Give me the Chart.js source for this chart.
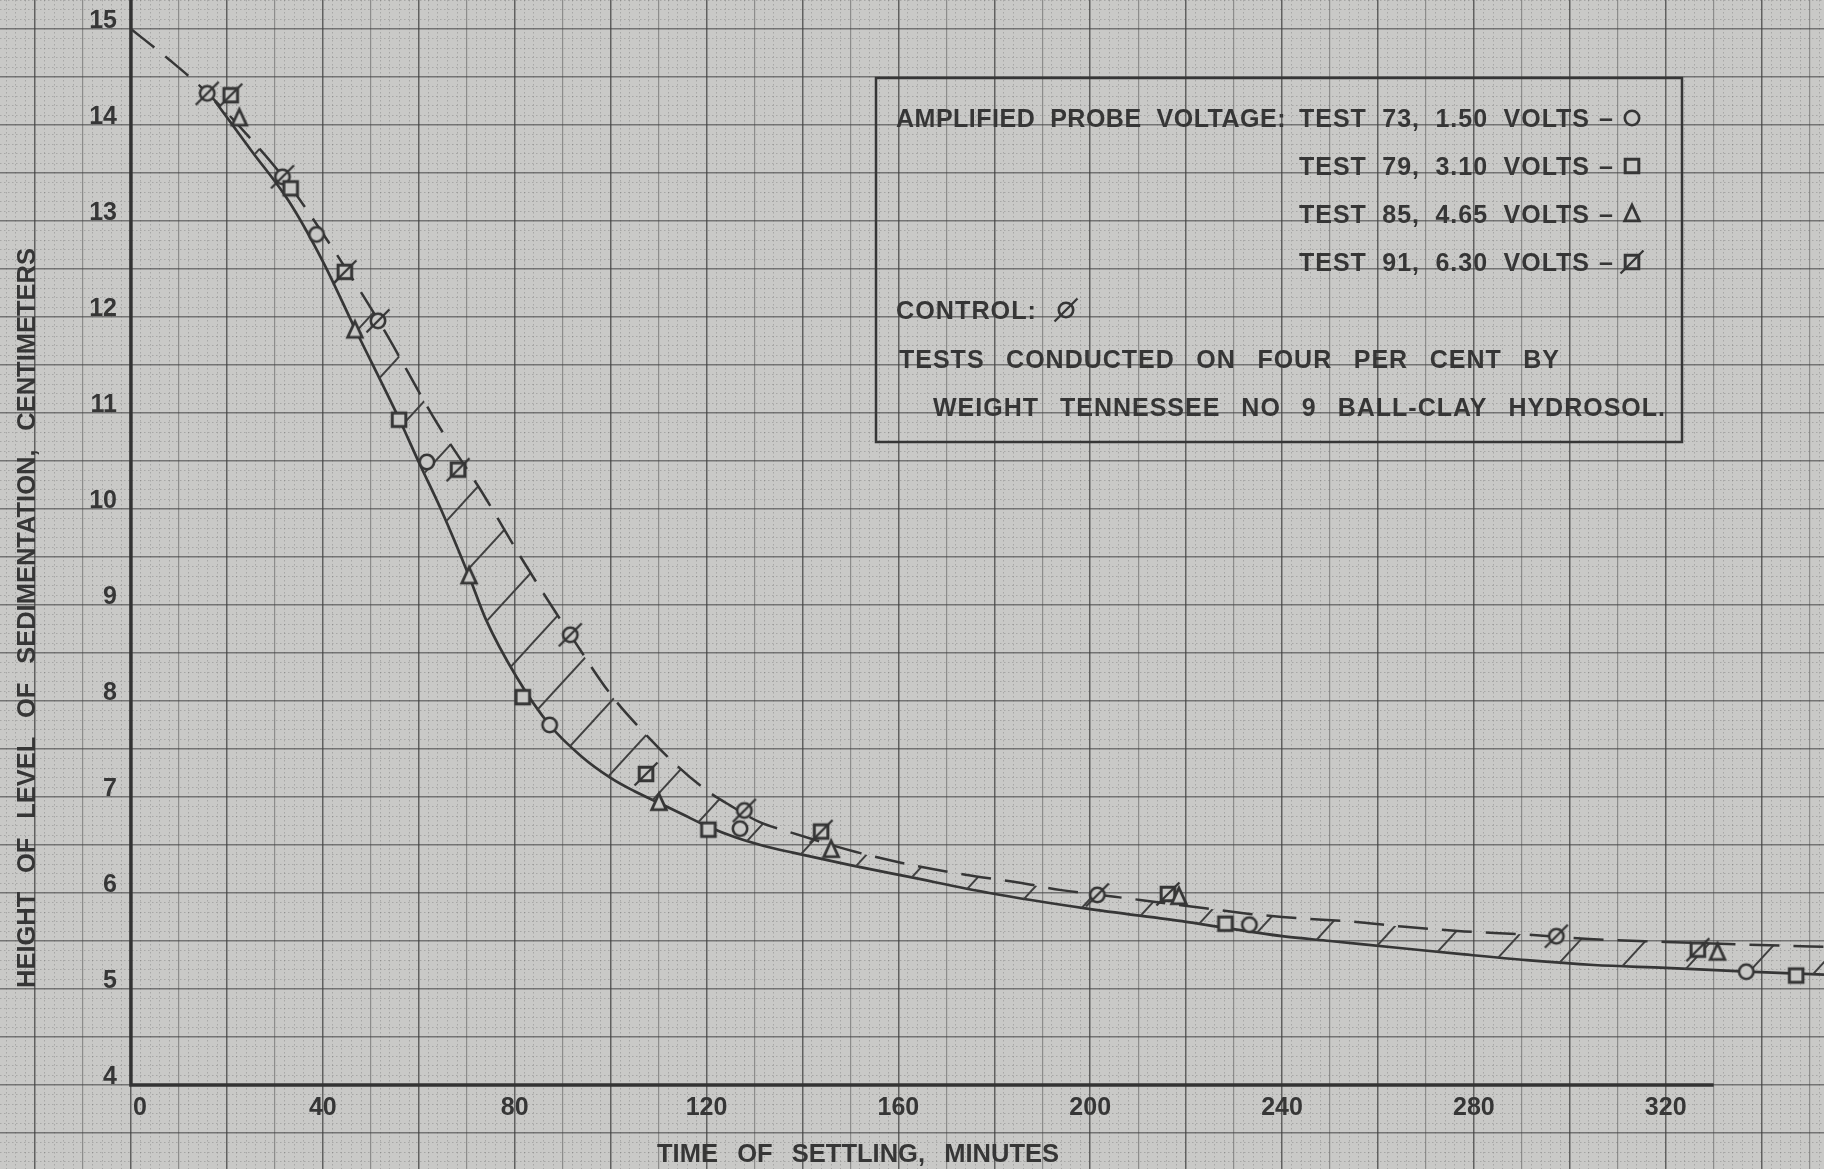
<!DOCTYPE html>
<html>
<head>
<meta charset="utf-8">
<title>Height of level of sedimentation vs. time of settling</title>
<script src="https://cdn.jsdelivr.net/npm/chart.js@4.4.1/dist/chart.umd.min.js"></script>
<style>
  html, body { margin: 0; padding: 0; background: #c9c9c7; overflow: hidden; }
  #wrap { position: relative; width: 1824px; height: 1169px; }
  canvas { display: block; }
</style>
</head>
<body>
<div id="wrap"><canvas id="chart" width="1824" height="1169"></canvas></div>
<script>
// ---- tick labels -------------------------------------------------------
const xTickLabels = [0, 40, 80, 120, 160, 200, 240, 280, 320];
const yTickLabels = [4, 5, 6, 7, 8, 9, 10, 11, 12, 13, 14, 15];

// ---- upper (dashed) settling curve: time in minutes, height in cm ---------
const dashedTimes   = [0, 8, 16, 24, 32, 42, 52, 64, 73, 82, 92, 100, 107, 114, 120, 125, 131, 137, 151, 162,
                       174, 185, 194, 202, 210, 224, 232, 240, 255, 265, 278, 290, 304, 320, 345, 353];
const dashedHeights = [15.00, 14.68, 14.33, 13.91, 13.44, 12.72, 11.93, 10.88, 10.19, 9.44, 8.66, 8.07, 7.67, 7.32, 7.07, 6.91, 6.74, 6.64, 6.43, 6.30,
                       6.19, 6.11, 6.03, 5.98, 5.93, 5.84, 5.79, 5.75, 5.70, 5.65, 5.60, 5.57, 5.52, 5.49, 5.45, 5.44];

// ---- lower (solid) settling curve -----------------------------------------
const solidTimes   = [17.5, 25, 33, 40, 46.7, 56, 60, 64.7, 70.5, 74, 80.4, 87.3, 94, 100, 105, 110, 115, 120.4, 126, 132,
                      138, 150, 162, 179, 199, 220, 240, 250, 264, 278, 291, 305, 320, 337, 353];
const solidHeights = [14.25, 13.74, 13.20, 12.58, 11.88, 10.93, 10.49, 9.99, 9.30, 8.85, 8.25, 7.75, 7.42, 7.20, 7.06, 6.94, 6.82, 6.69, 6.58, 6.49,
                      6.42, 6.29, 6.17, 6.00, 5.84, 5.70, 5.55, 5.50, 5.43, 5.36, 5.30, 5.25, 5.22, 5.18, 5.15];

// ---- observations -------------------------------------------------------
const test73Times   = [38.7, 61.7, 87.3, 127.0, 233.2, 336.8];        // 1.50 volts
const test73Heights = [12.86, 10.49, 7.75, 6.67, 5.67, 5.18];
const test79Times   = [33.3, 55.9, 81.7, 120.4, 228.2, 347.2];        // 3.10 volts
const test79Heights = [13.34, 10.93, 8.04, 6.66, 5.68, 5.14];
const test85Times   = [22.6, 46.7, 70.5, 110.1, 146.0, 218.5, 330.8]; // 4.65 volts
const test85Heights = [14.07, 11.86, 9.30, 6.94, 6.45, 5.96, 5.38];
const test91Times   = [20.8, 44.6, 68.2, 107.4, 143.9, 216.2, 326.7]; // 6.30 volts
const test91Heights = [14.31, 12.47, 10.41, 7.24, 6.64, 5.99, 5.41];
const controlTimes   = [15.9, 31.6, 51.5, 91.6, 127.9, 201.5, 297.2];
const controlHeights = [14.33, 13.46, 11.96, 8.69, 6.86, 5.98, 5.55];

// ---- texts ----------------------------------------------------------------
const xAxisTitle = 'TIME OF SETTLING, MINUTES';
const yAxisTitle = 'HEIGHT OF LEVEL OF SEDIMENTATION, CENTIMETERS';
const legendHeading = 'AMPLIFIED PROBE VOLTAGE:';
const legendTests = ['TEST 73, 1.50 VOLTS', 'TEST 79, 3.10 VOLTS', 'TEST 85, 4.65 VOLTS', 'TEST 91, 6.30 VOLTS'];
const legendControl = 'CONTROL:';
const legendNotes = ['TESTS CONDUCTED ON FOUR PER CENT BY', 'WEIGHT TENNESSEE NO 9 BALL-CLAY HYDROSOL.'];

// ---- sheet layout -------------------------------------------------------
const X_MIN = -27.3, X_MAX = 353.0;      // graph paper runs past the axes
const Y_MIN = 3.125, Y_MAX = 15.302;
const X_AXIS_END = 330;
const PAPER = '#c9c9c7';
const INK = '#363636';
const FONT = 'bold 25px "Liberation Sans", Arial, sans-serif';
const TITLE_FONT = 'bold 25.5px "Liberation Sans", Arial, sans-serif';

function pts(xs, ys) { return xs.map((x, i) => ({ x: x, y: ys[i] })); }

// Hand-drawn style marker glyphs
function makeMarker(kind) {
  const c = document.createElement('canvas');
  c.width = 36; c.height = 36;
  const g = c.getContext('2d');
  g.translate(18, 18);
  g.strokeStyle = INK;
  g.fillStyle = PAPER;
  g.lineJoin = 'miter';
  const circle = () => { g.lineWidth = 2.6; g.beginPath(); g.arc(0, 0, 7.2, 0, Math.PI * 2); g.fill(); g.stroke(); };
  const square = () => { g.lineWidth = 3; g.beginPath(); g.rect(-6.8, -6.8, 13.6, 13.6); g.fill(); g.stroke(); };
  const slash = () => { g.lineWidth = 2.3; g.beginPath(); g.moveTo(-11.5, 11.5); g.lineTo(11.5, -11.5); g.stroke(); };
  if (kind === 'circle') circle();
  if (kind === 'square') square();
  if (kind === 'triangle') {
    g.lineWidth = 2.8;
    g.beginPath(); g.moveTo(0, -9); g.lineTo(7.3, 6.8); g.lineTo(-7.3, 6.8); g.closePath(); g.fill(); g.stroke();
  }
  if (kind === 'squareSlash') { square(); slash(); }
  if (kind === 'circleSlash') { circle(); slash(); }
  return c;
}
const markers = {
  circle: makeMarker('circle'),
  square: makeMarker('square'),
  triangle: makeMarker('triangle'),
  squareSlash: makeMarker('squareSlash'),
  circleSlash: makeMarker('circleSlash')
};

// Diagonal hatching for the band between the two curves
function makeHatch() {
  const W = 66, H = 72;
  const c = document.createElement('canvas');
  c.width = W; c.height = H;
  const g = c.getContext('2d');
  g.strokeStyle = '#404040';
  g.lineWidth = 1.9;
  for (let k = 0; k <= 2; k++) {
    g.beginPath();
    g.moveTo((k - 2) * W, 2 * H);
    g.lineTo((k + 1) * W, -H);
    g.stroke();
  }
  return g.createPattern(c, 'repeat');
}

// Text stretched along a baseline so that it spans the given width
function drawFitted(ctx, text, x, y, width, tracking) {
  ctx.save();
  ctx.textAlign = 'left';
  const canTrack = 'letterSpacing' in ctx;
  const canSpace = 'wordSpacing' in ctx;
  if (canTrack) ctx.letterSpacing = (tracking || 0) + 'px';
  if (canSpace) ctx.wordSpacing = '0px';
  const words = text.split(' ');
  const gaps = words.length - 1;
  const natural = ctx.measureText(text).width;
  if (gaps === 0) {
    ctx.translate(x, y);
    ctx.scale(width / natural, 1);
    ctx.fillText(text, 0, 0);
  } else if (canSpace) {
    ctx.wordSpacing = ((width - natural) / gaps) + 'px';
    ctx.fillText(text, x, y);
  } else {
    const ws = words.map(w => ctx.measureText(w).width);
    const gap = (width - ws.reduce((a, b) => a + b, 0)) / gaps;
    let cx = x;
    words.forEach((w, i) => { ctx.fillText(w, cx, y); cx += ws[i] + gap; });
  }
  ctx.restore();
}

const sheetPlugin = {
  id: 'sheet',
  beforeDatasetsDraw(chart) {
    const { ctx } = chart;
    const xs = chart.scales.x, ys = chart.scales.y;
    const x0 = xs.getPixelForValue(0);
    const y0 = ys.getPixelForValue(4);
    ctx.save();
    ctx.strokeStyle = '#333333';
    ctx.lineWidth = 3.5;
    ctx.beginPath();
    ctx.moveTo(x0, ys.getPixelForValue(Y_MAX));
    ctx.lineTo(x0, y0);
    ctx.lineTo(xs.getPixelForValue(X_AXIS_END), y0);
    ctx.stroke();
    ctx.restore();
  },
  afterDatasetsDraw(chart) {
    const { ctx } = chart;
    const xs = chart.scales.x, ys = chart.scales.y;
    const x0 = xs.getPixelForValue(0);
    const y0 = ys.getPixelForValue(4);
    ctx.save();
    ctx.fillStyle = INK;
    ctx.font = FONT;
    ctx.textBaseline = 'alphabetic';

    // tick labels
    ctx.textAlign = 'center';
    xTickLabels.forEach(v => {
      const s = String(v);
      const w = ctx.measureText(s).width;
      const px = Math.max(xs.getPixelForValue(v), x0 + w / 2 + 2);
      ctx.fillText(s, px, y0 + 30);
    });
    ctx.textAlign = 'right';
    yTickLabels.forEach(v => {
      ctx.fillText(String(v), x0 - 14, ys.getPixelForValue(v) - 1);
    });

    // axis titles
    ctx.font = TITLE_FONT;
    drawFitted(ctx, xAxisTitle, 657, 1162, 402, 0);
    ctx.save();
    ctx.translate(35, 618);
    ctx.rotate(-Math.PI / 2);
    drawFitted(ctx, yAxisTitle, -370, 0, 740, 0);
    ctx.restore();
    ctx.font = FONT;

    // legend box
    ctx.strokeStyle = INK;
    ctx.lineWidth = 2.5;
    ctx.strokeRect(876, 78, 806, 364);

    drawFitted(ctx, legendHeading, 896, 127, 390, 0.5);
    const testMarks = [markers.circle, markers.square, markers.triangle, markers.squareSlash];
    const rowBase = [127, 175, 223, 271];
    legendTests.forEach((t, i) => {
      drawFitted(ctx, t, 1299, rowBase[i], 291, 1);
      ctx.textAlign = 'center';
      ctx.fillText('\u2013', 1606, rowBase[i]);
      const m = testMarks[i];
      ctx.drawImage(m, 1632 - m.width / 2, rowBase[i] - 9 - m.height / 2);
    });
    drawFitted(ctx, legendControl, 896, 319, 141, 1);
    const cm = markers.circleSlash;
    ctx.drawImage(cm, 1066 - cm.width / 2, 310 - cm.height / 2);
    drawFitted(ctx, legendNotes[0], 899, 368, 661, 1);
    drawFitted(ctx, legendNotes[1], 933, 416, 733, 1);
    ctx.restore();
  }
};

const isMultiple = (v, step) => Math.abs(v / step - Math.round(v / step)) < 1e-6;

function gridScale(axis, step, colorFn, widthFn, dash) {
  return {
    type: 'linear',
    axis: axis,
    position: axis === 'x' ? 'bottom' : 'left',
    min: axis === 'x' ? X_MIN : Y_MIN,
    max: axis === 'x' ? X_MAX : Y_MAX,
    ticks: { display: false, stepSize: step, includeBounds: false, autoSkip: false },
    grid: { drawTicks: false, color: colorFn, lineWidth: widthFn },
    border: { display: false, dash: dash }
  };
}

const hatch = makeHatch();

const markerSet = (label, xs, ys, style) => ({
  label: label,
  data: pts(xs, ys),
  showLine: false,
  pointStyle: style,
  pointRadius: 7,
  pointHoverRadius: 7,
  order: 1
});

new Chart(document.getElementById('chart'), {
  type: 'line',
  data: {
    datasets: [
      {
        label: 'upper curve',
        data: pts(dashedTimes, dashedHeights),
        borderColor: INK,
        borderWidth: 2.5,
        borderDash: [30, 14],
        pointRadius: 0,
        cubicInterpolationMode: 'monotone',
        fill: '+1',
        backgroundColor: hatch,
        order: 2
      },
      {
        label: 'lower curve',
        data: pts(solidTimes, solidHeights),
        borderColor: INK,
        borderWidth: 2.7,
        pointRadius: 0,
        cubicInterpolationMode: 'monotone',
        fill: false,
        order: 2
      },
      markerSet('TEST 73, 1.50 VOLTS', test73Times, test73Heights, markers.circle),
      markerSet('TEST 79, 3.10 VOLTS', test79Times, test79Heights, markers.square),
      markerSet('TEST 85, 4.65 VOLTS', test85Times, test85Heights, markers.triangle),
      markerSet('TEST 91, 6.30 VOLTS', test91Times, test91Heights, markers.squareSlash),
      markerSet('CONTROL', controlTimes, controlHeights, markers.circleSlash)
    ]
  },
  options: {
    responsive: false,
    maintainAspectRatio: false,
    devicePixelRatio: 1,
    animation: false,
    layout: { padding: 0, autoPadding: false },
    plugins: { legend: { display: false }, tooltip: { enabled: false } },
    scales: {
      xf: gridScale('x', 2,
        c => isMultiple(c.tick.value, 10) ? 'rgba(0,0,0,0)' : 'rgba(90,90,90,0.3)',
        1, [1.5, 2.5]),
      yf: gridScale('y', 0.1,
        c => isMultiple(c.tick.value, 0.5) ? 'rgba(0,0,0,0)' : 'rgba(90,90,90,0.3)',
        1, [1.5, 2.5]),
      x: gridScale('x', 10,
        c => isMultiple(c.tick.value, 20) ? 'rgba(55,55,55,0.72)' : 'rgba(80,80,80,0.5)',
        c => isMultiple(c.tick.value, 20) ? 1.5 : 1.2, []),
      y: gridScale('y', 0.5,
        c => 'rgba(65,65,65,0.62)',
        1.4, [])
    }
  },
  plugins: [sheetPlugin]
});
</script>
</body>
</html>
